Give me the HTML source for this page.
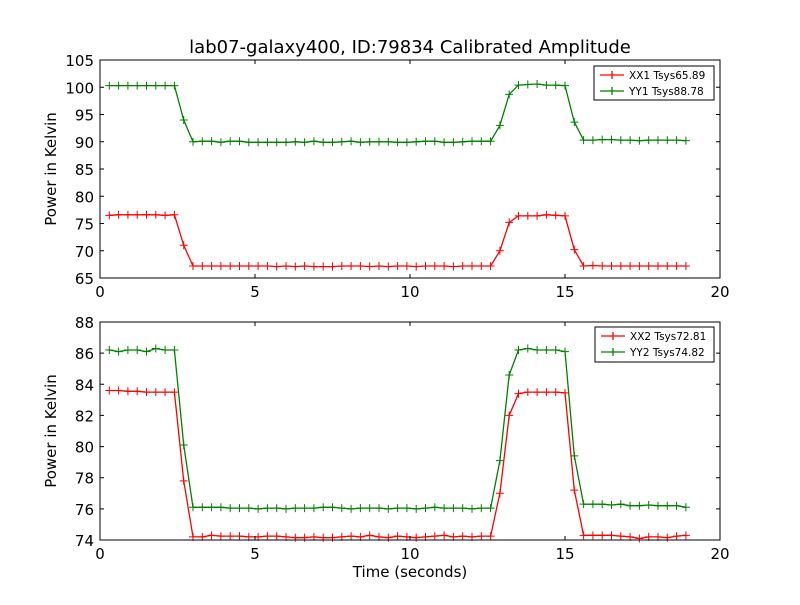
<!DOCTYPE html>
<html><head><meta charset="utf-8"><style>
body{margin:0;background:#fff;}
svg text{font-family:"DejaVu Sans","Liberation Sans",sans-serif;}
</style></head><body>
<svg id="chart" width="800" height="600" viewBox="0 0 800 600" xmlns="http://www.w3.org/2000/svg">
<rect width="800" height="600" fill="#fff"/>
<text x="410" y="53" font-size="18" text-anchor="middle">lab07-galaxy400, ID:79834 Calibrated Amplitude</text>
<g id="g1"></g><g id="g2"></g>
<text x="410" y="577" font-size="15" text-anchor="middle">Time (seconds)</text>
</svg>
<script>
const times = Array.from({length:63},(_, i)=>+(0.3*(i+1)).toFixed(1));
const xx1 = [76.5,76.6,76.6,76.6,76.6,76.6,76.5,76.6,71.0,
67.2,67.2,67.2,67.2,67.2,67.2,67.2,67.2,67.2,67.1,67.2,67.1,67.2,67.1,67.1,67.1,67.2,67.2,67.2,67.1,67.2,67.1,67.2,67.2,67.1,67.2,67.2,67.2,67.1,67.2,67.2,67.2,67.2,
70.0,75.2,76.4,76.4,76.4,76.6,76.5,76.4,70.2,
67.2,67.3,67.2,67.2,67.2,67.2,67.2,67.2,67.2,67.2,67.2,67.2];
const yy1 = [100.3,100.3,100.3,100.3,100.3,100.3,100.3,100.3,94.0,
90.0,90.1,90.1,89.9,90.1,90.1,89.9,89.9,89.9,89.9,89.9,90.0,89.9,90.1,89.9,89.9,90.0,90.1,89.9,90.0,90.0,90.0,89.9,89.9,90.0,90.1,90.1,89.9,89.9,90.0,90.1,90.1,90.1,
93.0,98.7,100.4,100.5,100.6,100.4,100.4,100.3,93.6,
90.3,90.3,90.4,90.4,90.3,90.3,90.2,90.3,90.3,90.3,90.3,90.2];
const xx2 = [83.6,83.6,83.55,83.55,83.5,83.5,83.5,83.5,77.8,
74.2,74.2,74.3,74.25,74.25,74.25,74.2,74.2,74.25,74.25,74.2,74.15,74.15,74.2,74.15,74.15,74.2,74.25,74.2,74.3,74.2,74.15,74.25,74.2,74.15,74.2,74.25,74.3,74.2,74.25,74.2,74.25,74.25,
77.0,82.0,83.4,83.5,83.5,83.5,83.5,83.45,77.2,
74.3,74.3,74.3,74.3,74.25,74.2,74.1,74.2,74.2,74.15,74.25,74.3];
const yy2 = [86.2,86.1,86.2,86.2,86.1,86.3,86.2,86.2,80.1,
76.1,76.1,76.1,76.1,76.05,76.05,76.05,76.0,76.05,76.05,76.0,76.05,76.05,76.05,76.1,76.1,76.05,76.0,76.05,76.05,76.05,76.0,76.05,76.05,76.0,76.05,76.1,76.05,76.05,76.05,76.0,76.05,76.05,
79.1,84.6,86.2,86.3,86.2,86.2,86.2,86.1,79.4,
76.3,76.3,76.3,76.25,76.3,76.2,76.2,76.25,76.2,76.2,76.2,76.1];
const xTicks = [0,5,10,15,20];
const yTicks1 = [65,70,75,80,85,90,95,100,105];
const yTicks2 = [74,76,78,80,82,84,86,88];
const legend1 = ["XX1 Tsys65.89","YY1 Tsys88.78"];
const legend2 = ["XX2 Tsys72.81","YY2 Tsys74.82"];

const NS="http://www.w3.org/2000/svg";
function mk(tag,attrs,parent){const e=document.createElementNS(NS,tag);for(const k in attrs)e.setAttribute(k,attrs[k]);parent.appendChild(e);return e;}

function panel(g, box, ymin, ymax, yTicks, series, legendLabels, legendBox, prefix){
  const {x0,x1,y0,y1}=box;
  const sx=v=>x0+(v-0)/(20-0)*(x1-x0);
  const sy=v=>y1-(v-ymin)/(ymax-ymin)*(y1-y0);
  series.forEach((s,si)=>{
    const n=Math.min(times.length,s.vals.length);
    const pts=times.slice(0,n).map((t,i)=>sx(t).toFixed(1)+","+sy(s.vals[i]).toFixed(1)).join(" ");
    const pl=mk("polyline",{points:pts,fill:"none",stroke:s.color,"stroke-width":1.3},g);
    
    
    times.slice(0,n).forEach((t,i)=>{
      const cx=sx(t),cy=sy(s.vals[i]);
      const p=mk("path",{d:`M${cx-4},${cy}H${cx+4}M${cx},${cy-4}V${cy+4}`,stroke:s.color,"stroke-width":1},g);
      
      
    });
  });
  const fr=mk("rect",{x:x0,y:y0,width:x1-x0,height:y1-y0,fill:"none",stroke:"#000","stroke-width":1},g);
  
  
  xTicks.forEach(v=>{
    const x=sx(v);
    mk("path",{d:`M${x},${y1}V${y1-4}M${x},${y0}V${y0+4}`,stroke:"#000"},g);
    const t=mk("text",{x:x,y:y1+19,"font-size":15,"text-anchor":"middle"},g);
    t.textContent=v;
    
    
  });
  yTicks.forEach(v=>{
    const y=sy(v);
    mk("path",{d:`M${x0},${y}H${x0+4}M${x1},${y}H${x1-4}`,stroke:"#000"},g);
    const t=mk("text",{x:x0-6,y:y+6,"font-size":15,"text-anchor":"end"},g);
    t.textContent=v;
    
    
  });
  const yl=mk("text",{x:0,y:0,"font-size":15,"text-anchor":"middle",transform:`translate(${x0-44},${(y0+y1)/2}) rotate(-90)`},g);
  yl.textContent="Power in Kelvin";
  
  
  const lg=mk("g",{},g);
  
  
  mk("rect",{x:legendBox.x,y:legendBox.y,width:legendBox.w,height:legendBox.h,fill:"#fff",stroke:"#000"},lg);
  legendLabels.forEach((lab,i)=>{
    const cy=legendBox.y+9+i*16, lx=legendBox.x+6;
    const e=mk("g",{},lg);
    
    
    mk("path",{d:`M${lx},${cy}H${lx+24}M${lx+12},${cy-4}V${cy+4}`,stroke:series[i].color,"stroke-width":1.3},e);
    const t=mk("text",{x:lx+29,y:cy+4,"font-size":10.5},e);
    t.textContent=lab;
  });
}
panel(document.getElementById("g1"),{x0:100,x1:720,y0:60,y1:278},65,105,yTicks1,
  [{key:"xx1",vals:xx1,color:"#ff0000"},{key:"yy1",vals:yy1,color:"#008000"}],legend1,{x:594,y:66,w:120,h:34},"top");
panel(document.getElementById("g2"),{x0:100,x1:720,y0:322,y1:540},74,88,yTicks2,
  [{key:"xx2",vals:xx2,color:"#ff0000"},{key:"yy2",vals:yy2,color:"#008000"}],legend2,{x:595,y:327,w:119,h:35},"bottom");
</script>
</body></html>
